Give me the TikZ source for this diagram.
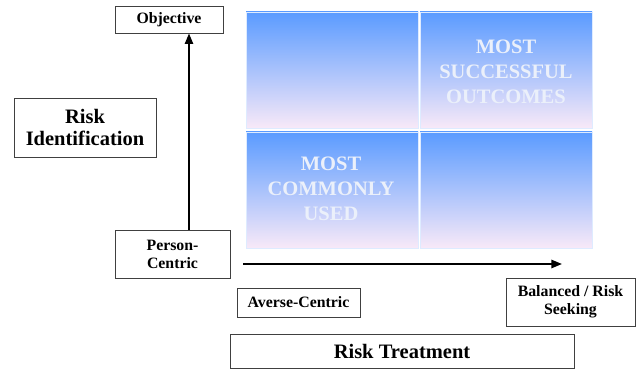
\documentclass[tikz,border=0pt]{standalone}
\usepackage{fontspec}
\setmainfont{Liberation Serif}
\usetikzlibrary{arrows.meta}
\definecolor{celltop}{RGB}{90,155,255}
\definecolor{cellmid}{RGB}{135,190,248}
\definecolor{cellbot}{RGB}{248,233,248}
\definecolor{celltext}{RGB}{235,240,250}
\tikzset{
  box/.style={draw=black!75, line width=0.7pt, fill=white, align=center,
    font=\bfseries\fontsize{13.5}{15.5}\selectfont, inner sep=1pt},
  bigbox/.style={box, font=\bfseries\fontsize{17.5}{19.5}\selectfont},
  cell/.style={draw=white!80!celltop, line width=0.5pt, top color=celltop,
    middle color=cellmid, bottom color=cellbot},
  celltxt/.style={text=celltext, align=center,
    font=\bfseries\fontsize{17.5}{21.3}\selectfont},
  axis/.style={line width=1.6pt, -{Triangle[length=9pt,width=7pt]}}
}
\begin{document}
\begin{tikzpicture}[x=0.03cm, y=-0.03cm]
  \useasboundingbox (0,0) rectangle (637,369);
  % quadrant
  \shade[cell] (246,12) rectangle (418,128);
  \shade[cell] (420,12) rectangle (592,128);
  \shade[cell] (246,132) rectangle (418,248);
  \shade[cell] (420,132) rectangle (592,248);
  \node[celltxt] (best) at (506,72) {MOST\\SUCCESSFUL\\OUTCOMES};
  \node[celltxt] (usual) at (331,189) {MOST\\COMMONLY\\USED};
  % labels
  \node[box, minimum width=3.24cm, minimum height=0.81cm] (obj) at (169,19.5) {Objective};
  \node[bigbox, minimum width=4.26cm, minimum height=1.77cm] (ident) at (85,127.5) {Risk\\Identification};
  \node[box, minimum width=3.45cm, minimum height=1.44cm] (person) at (172.5,254) {Person-\\Centric};
  \node[box, minimum width=3.69cm, minimum height=0.87cm] (averse) at (298.5,302.5) {Averse-Centric};
  \node[box, minimum width=3.87cm, minimum height=1.44cm] (seek) at (570.5,302) {Balanced / Risk\\Seeking};
  \node[bigbox, minimum width=10.32cm, minimum height=1.02cm] (treat) at (402,351) {Risk Treatment};
  % axes
  \coordinate (yfoot) at (189,230);
  \coordinate (xfoot) at (243,264);
  \coordinate (xtip) at (562,264);
  \draw[axis] (yfoot) -- (yfoot |- obj.south);
  \draw[axis] (xfoot) -- (xtip);
\end{tikzpicture}
\end{document}
